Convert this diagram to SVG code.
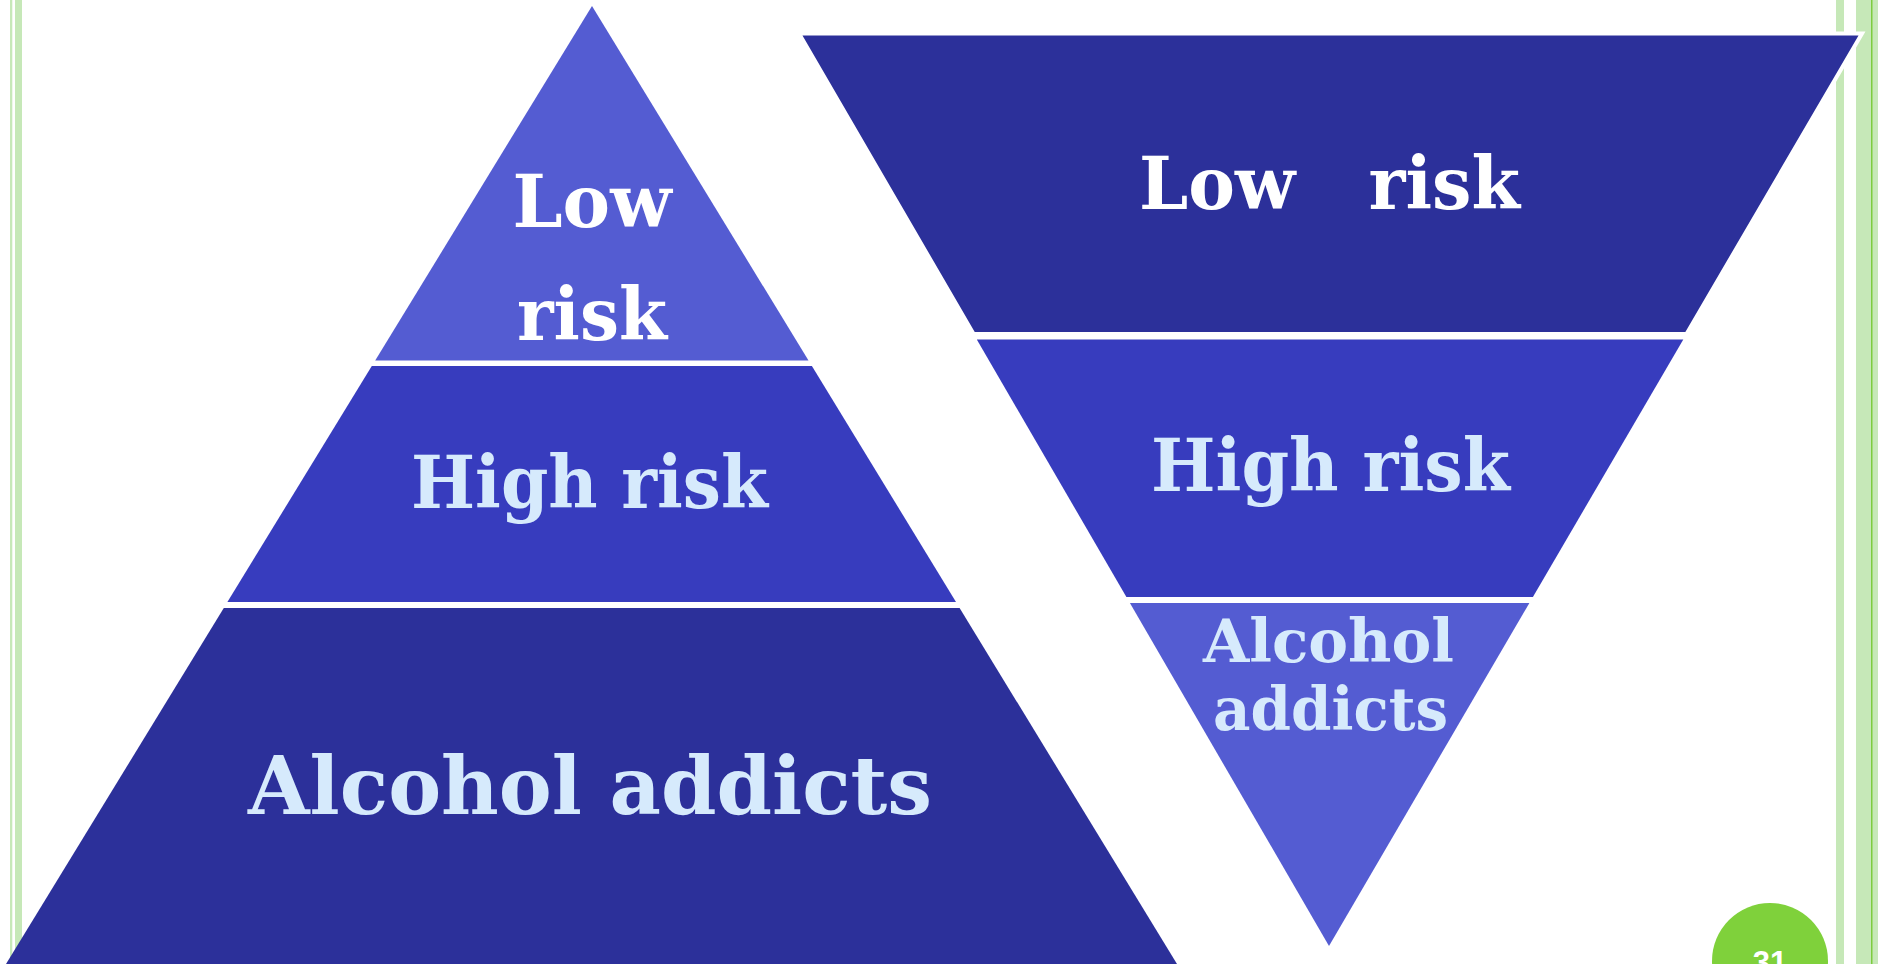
<svg xmlns="http://www.w3.org/2000/svg" width="1878" height="964" viewBox="0 0 1878 964">
<style>
.light{fill:#545cd2}
.mid{fill:#373cbe}
.dark{fill:#2c309a}
.stripe{fill:#c6e8b8}
.lbl{font-family:"DejaVu Serif","Liberation Serif",serif;font-weight:bold;text-anchor:middle;fill:#d6eafc}
.wh{fill:#ffffff}
</style>
<rect width="1878" height="964" fill="#ffffff"/>
<g id="border">
<rect class="stripe" x="10" y="0" width="2.3" height="964"/>
<rect class="stripe" x="15" y="0" width="7" height="964"/>
<rect class="stripe" x="1836" y="0" width="8" height="964"/>
<rect class="stripe" x="1856" y="0" width="22" height="964"/>
<rect x="1871" y="0" width="1.5" height="964" fill="#7dcc3f"/>
</g>
<g id="pyramid">
<g id="pyr-low">
<polygon class="light" points="592,6 808.5,360.5 375.2,360.5"/>
<text class="lbl wh" x="592" y="227" font-size="73" textLength="159" lengthAdjust="spacingAndGlyphs">Low</text>
<text class="lbl wh" x="592" y="340" font-size="73" textLength="150" lengthAdjust="spacingAndGlyphs">risk</text>
</g>
<g id="pyr-high">
<polygon class="mid" points="371.8,366 811.9,366 956,602 227.4,602"/>
<text class="lbl" x="589.5" y="508" font-size="72" textLength="357" lengthAdjust="spacingAndGlyphs">High risk</text>
</g>
<g id="pyr-addicts">
<polygon class="dark" points="223.8,608 959.6,608 1177,964 6,964"/>
<text class="lbl" x="590" y="814" font-size="81" textLength="684" lengthAdjust="spacingAndGlyphs">Alcohol addicts</text>
</g>
</g>
<g id="funnel">
<g id="fun-low">
<polygon class="dark" points="799,33.5 1862,33.5 1686.5,334 973.6,334" stroke="#ffffff" stroke-width="4" stroke-linejoin="miter"/>
<text class="lbl wh" x="1329.5" y="209" font-size="72" textLength="381" lengthAdjust="spacingAndGlyphs" xml:space="preserve" style="white-space:pre">Low   risk</text>
</g>
<g id="fun-high">
<polygon class="mid" points="976.8,339.5 1683.3,339.5 1532.9,597 1126.4,597"/>
<text class="lbl" x="1330.5" y="491" font-size="72" textLength="359" lengthAdjust="spacingAndGlyphs">High risk</text>
</g>
<g id="fun-addicts">
<polygon class="light" points="1129.9,603 1529.4,603 1329,946"/>
<text class="lbl" x="1328.5" y="662" font-size="60" textLength="251" lengthAdjust="spacingAndGlyphs">Alcohol</text>
<text class="lbl" x="1330.5" y="729.5" font-size="60" textLength="235" lengthAdjust="spacingAndGlyphs">addicts</text>
</g>
</g>
<g id="page-number">
<circle cx="1770" cy="961" r="58" fill="#7fd13b"/>
<text x="1770" y="973" font-family="'Liberation Sans',Arial,sans-serif" font-weight="bold" font-size="31" text-anchor="middle" fill="#ffffff">31</text>
</g>
<g id="connectors"/>
</svg>
